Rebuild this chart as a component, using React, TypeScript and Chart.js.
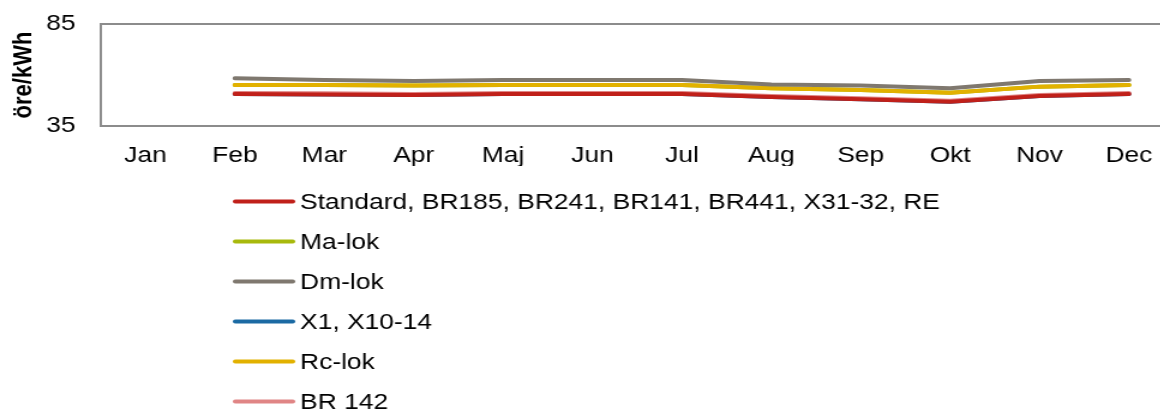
import React, { useEffect, useRef } from "react";
import { Chart, registerables } from "chart.js";

Chart.register(...registerables);

// ---- data ----
const months = ["Jan", "Feb", "Mar", "Apr", "Maj", "Jun", "Jul", "Aug", "Sep", "Okt", "Nov", "Dec"];
const yTicks = [35, 85];
const axisTitle = "öre/kWh";

const seriesNames = [
  "Standard, BR185, BR241, BR141, BR441, X31-32, RE",
  "Ma-lok",
  "Dm-lok",
  "X1, X10-14",
  "Rc-lok",
  "BR 142",
];

const standardValues = [null, 50.7, 50.5, 50.2, 50.7, 50.7, 50.7, 49.2, 48.1, 46.9, 49.7, 50.7];
const maLokValues = [null, 55.1, 55.1, 54.8, 55.1, 55.1, 55.1, 53.5, 52.6, 51.3, 54.3, 55.1];
const dmLokValues = [null, 58.4, 57.5, 57.1, 57.5, 57.5, 57.5, 55.4, 54.8, 53.5, 57.1, 57.5];
const x1Values = [null, 50.7, 50.5, 50.2, 50.7, 50.7, 50.7, 49.2, 48.1, 46.9, 49.7, 50.7];
const rcLokValues = [null, 55.1, 55.1, 54.8, 55.1, 55.1, 55.1, 53.5, 52.6, 51.3, 54.3, 55.1];
const br142Values = [null, 51.2, 51.0, 50.7, 51.2, 51.2, 51.2, 49.7, 48.6, 47.4, 50.2, 51.2];

const seriesColors = ["#C0201A", "#A8B90C", "#7F786F", "#1B6AA3", "#E2B100", "#E08585"];
const seriesOrder = [0, 2, 0, 2, 0, 1];
const seriesValues = [standardValues, maLokValues, dmLokValues, x1Values, rcLokValues, br142Values];

// ---- layout ----
const CANVAS_W = 978; // plot box runs past the right edge of the 1160px view
const CANVAS_H = 410;
const STRETCH = 1.2;
const FONT = '"Liberation Sans", Arial, sans-serif';

export default function App() {
  const ref = useRef<HTMLCanvasElement>(null);

  useEffect(() => {
    document.body.style.margin = "0";
    document.body.style.overflow = "hidden";
    const canvas = ref.current;
    if (!canvas) return;

    const framePlugin = {
      id: "frame",
      beforeDatasetsDraw(chart: any) {
        const { left, top, right, bottom } = chart.chartArea;
        const ctx = chart.ctx;
        ctx.save();
        ctx.strokeStyle = "#8C8C8C";
        ctx.lineWidth = 2;
        ctx.strokeRect(left, top, right - left, bottom - top);
        ctx.restore();
      },
    };

    const legendPlugin = {
      id: "stackedLegend",
      afterDraw(chart: any) {
        const ctx = chart.ctx;
        ctx.save();
        chart.data.datasets.forEach((ds: any, i: number) => {
          const y = 201.5 + i * 40;
          ctx.strokeStyle = ds.borderColor;
          ctx.lineWidth = 4;
          ctx.lineCap = "round";
          ctx.beginPath();
          ctx.moveTo(196, y);
          ctx.lineTo(244, y);
          ctx.stroke();
          ctx.fillStyle = "#000";
          ctx.font = `22px ${FONT}`;
          ctx.textBaseline = "middle";
          ctx.textAlign = "left";
          ctx.fillText(ds.label, 250, y + 1);
        });
        ctx.restore();
      },
    };

    const chart = new Chart(canvas, {
      type: "line",
      data: {
        labels: months,
        datasets: seriesNames.map((name, i) => ({
          label: name,
          data: seriesValues[i],
          borderColor: seriesColors[i],
          backgroundColor: seriesColors[i],
          borderWidth: 4,
          pointRadius: 0,
          tension: 0,
          borderCapStyle: "round",
          borderJoinStyle: "round",
          order: seriesOrder[i],
          spanGaps: false,
        })),
      },
      options: {
        responsive: false,
        animation: false,
        layout: { autoPadding: false, padding: { left: 0, top: 24, right: 0, bottom: 244 } },
        plugins: {
          legend: { display: false },
          tooltip: { enabled: false },
        },
        scales: {
          x: {
            type: "category",
            offset: true,
            grid: { display: false, drawTicks: false },
            border: { display: false },
            ticks: { color: "#000", font: { family: FONT, size: 22 }, padding: 17, maxRotation: 0, autoSkip: false },
            afterFit: (s: any) => { s.height = 40; s.paddingLeft = 0; s.paddingRight = 0; },
          },
          y: {
            min: 35,
            max: 85,
            afterBuildTicks: (s: any) => { s.ticks = yTicks.map((v) => ({ value: v })); },
            grid: { display: false, drawTicks: false },
            border: { display: false },
            ticks: { color: "#000", font: { family: FONT, size: 22 }, padding: 21 },
            title: {
              display: true,
              text: axisTitle,
              color: "#000",
              font: { family: FONT, size: 22, weight: "bold" },
              padding: { top: 7, bottom: 0 },
            },
            afterFit: (s: any) => { s.width = 84; s.paddingTop = 0; s.paddingBottom = 0; },
          },
        },
      },
      plugins: [framePlugin, legendPlugin],
    });

    return () => chart.destroy();
  }, []);

  return (
    <div style={{ width: 1160, height: 410, overflow: "hidden" }}>
      <canvas
        ref={ref}
        width={CANVAS_W}
        height={CANVAS_H}
        style={{
          display: "block",
          width: CANVAS_W,
          height: CANVAS_H,
          transform: `scaleX(${STRETCH})`,
          transformOrigin: "0 0",
        }}
      />
    </div>
  );
}
